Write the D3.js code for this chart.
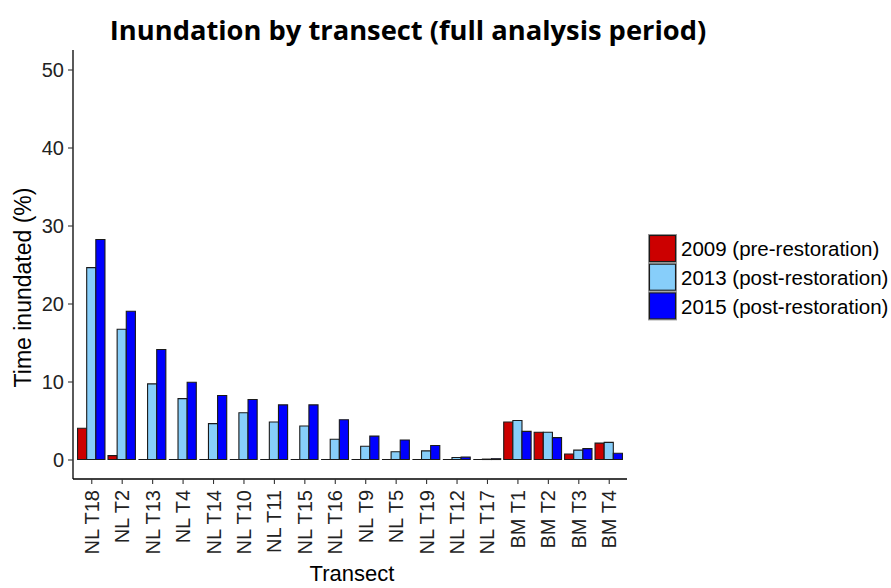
<!DOCTYPE html>
<html>
<head>
<meta charset="utf-8">
<script src="https://cdn.jsdelivr.net/npm/d3@7"></script>
<style>
  body { margin: 0; background: #fff; }
  svg { display: block; }
</style>
</head>
<body>
<svg id="chart" width="891" height="588"></svg>
<script>
// transect names, in plotting order
const transects = ["NL T18", "NL T2", "NL T13", "NL T4", "NL T14", "NL T10", "NL T11", "NL T15",
                   "NL T16", "NL T9", "NL T5", "NL T19", "NL T12", "NL T17", "BM T1", "BM T2", "BM T3", "BM T4"];
const years = ["2009 (pre-restoration)", "2013 (post-restoration)", "2015 (post-restoration)"];
// time inundated (%)
const pct2009 = [4.0, 0.5, 0, 0, 0, 0, 0, 0, 0, 0, 0, 0, 0, 0, 4.8, 3.5, 0.7, 2.1];
const pct2013 = [24.6, 16.7, 9.7, 7.8, 4.6, 6.0, 4.8, 4.3, 2.6, 1.7, 1.0, 1.1, 0.25, 0.05, 5.0, 3.5, 1.2, 2.2];
const pct2015 = [28.2, 19.0, 14.1, 9.9, 8.2, 7.7, 7.0, 7.0, 5.1, 3.0, 2.5, 1.8, 0.3, 0.1, 3.6, 2.8, 1.4, 0.8];
const yTicks = [0, 10, 20, 30, 40, 50];
const colours = ["#CC0000", "#87CEFA", "#0000FF"];

const series = [pct2009, pct2013, pct2015];
let rows = [];
transects.forEach((t, i) => {
  years.forEach((y, j) => {
    rows.push({transect: t, year: y, value: series[j][i]});
  });
});

const svg = d3.select("#chart");
const plotLeft = 73, plotRight = 627, plotTop = 50, plotBottom = 479;
const font = "Liberation Sans, Arial, sans-serif";

// discrete axis like ggplot: 0.6 units of padding each side
let x = d3.scalePoint().domain(transects).range([plotLeft, plotRight]).padding(0.6);
let step = x.step();
let xInner = d3.scaleBand().domain(years).range([-0.45 * step, 0.45 * step]);

let y = d3.scaleLinear().domain([-2.5, 52.5]).range([plotBottom, plotTop]);
let colour = d3.scaleOrdinal().domain(years).range(colours);

// bars as paths so the zero ones still show their outline
svg.append("g")
  .selectAll("path")
  .data(rows)
  .join("path")
    .attr("d", d => {
      let x0 = x(d.transect) + xInner(d.year), w = xInner.bandwidth();
      let y0 = y(0), y1 = y(d.value);
      return `M${x0},${y0}H${x0 + w}V${y1}H${x0}Z`;
    })
    .attr("fill", d => colour(d.year))
    .attr("stroke", "#1a1a1a")
    .attr("stroke-width", 1.1);

// y axis
let yAxis = svg.append("g")
  .attr("transform", `translate(${plotLeft},0)`)
  .call(d3.axisLeft(y).tickValues(yTicks).tickSize(5).tickPadding(4));
yAxis.select(".domain").attr("d", `M0,${plotTop}V${plotBottom}`).attr("stroke", "#000").attr("stroke-width", 1.3);
yAxis.selectAll(".tick line").attr("stroke", "#333").attr("stroke-width", 1.1);
yAxis.selectAll("text")
  .attr("font-family", font)
  .attr("font-size", 20)
  .attr("fill", "#222")
  .attr("dy", "0.35em");

// x axis
let xAxis = svg.append("g")
  .attr("transform", `translate(0,${plotBottom})`)
  .call(d3.axisBottom(x).tickSize(5).tickPadding(5));
xAxis.select(".domain").attr("d", `M${plotLeft},0H${plotRight}`).attr("stroke", "#000").attr("stroke-width", 1.3);
xAxis.selectAll(".tick line").attr("stroke", "#333").attr("stroke-width", 1.1);
xAxis.selectAll("text")
  .attr("font-family", font)
  .attr("font-size", 20)
  .attr("fill", "#222")
  .attr("transform", "rotate(-90)")
  .attr("text-anchor", "end")
  .attr("x", -11)
  .attr("y", 0)
  .attr("dy", "0.35em");

// axis titles
svg.append("text")
  .attr("x", (plotLeft + plotRight) / 2 + 2)
  .attr("y", 581)
  .attr("text-anchor", "middle")
  .attr("font-family", font)
  .attr("font-size", 22)
  .attr("fill", "#000")
  .text("Transect");

svg.append("text")
  .attr("transform", `translate(31,${(plotTop + plotBottom) / 2 + 23}) rotate(-90)`)
  .attr("text-anchor", "middle")
  .attr("font-family", font)
  .attr("font-size", 23)
  .attr("fill", "#000")
  .text("Time inundated (%)");

// title
svg.append("text")
  .attr("x", 408)
  .attr("y", 40)
  .attr("text-anchor", "middle")
  .attr("font-family", "Open Sans, sans-serif")
  .attr("font-weight", "bold")
  .attr("font-size", 27.3)
  .attr("fill", "#000")
  .text("Inundation by transect (full analysis period)");

// legend
let legend = svg.append("g").attr("transform", "translate(648,234)");
years.forEach((yr, i) => {
  let g = legend.append("g").attr("transform", `translate(0,${i * 28.7})`);
  g.append("rect")
    .attr("x", 0.5).attr("y", 0.5)
    .attr("width", 28).attr("height", 28)
    .attr("fill", "#f2f2f2").attr("stroke", "#999");
  g.append("rect")
    .attr("x", 1.5).attr("y", 1.5)
    .attr("width", 26).attr("height", 26)
    .attr("fill", colour(yr))
    .attr("stroke", "#1a1a1a").attr("stroke-width", 1.1);
  g.append("text")
    .attr("x", 33)
    .attr("y", 15)
    .attr("dy", "0.35em")
    .attr("font-family", font)
    .attr("font-size", 20.5)
    .attr("fill", "#000")
    .text(yr);
});
</script>
</body>
</html>
